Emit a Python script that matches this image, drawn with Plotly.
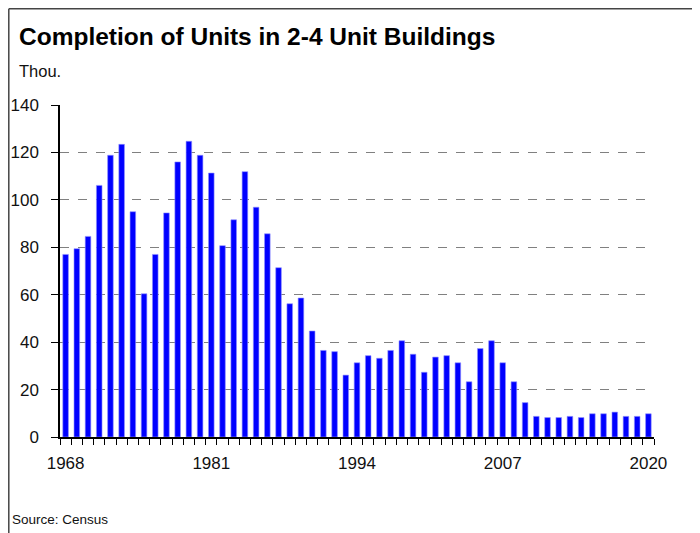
import plotly.graph_objects as go

years = list(range(1968, 2021))
units = [77.0, 79.4, 84.6, 106.1, 118.8, 123.4, 95.0, 60.4, 77.0, 94.5,
         116.0, 124.7, 118.8, 111.3, 80.7, 91.6, 111.9, 96.9, 85.7, 71.4,
         56.2, 58.6, 44.7, 36.5, 36.0, 26.1, 31.3, 34.3, 33.2, 36.5,
         40.6, 34.9, 27.3, 33.7, 34.3, 31.3, 23.3, 37.3, 40.6, 31.3,
         23.3, 14.5, 8.7, 8.2, 8.2, 8.7, 8.2, 9.8, 9.8, 10.5,
         8.7, 8.7, 9.8]
label_years = [1968, 1981, 1994, 2007, 2020]
y_ticks = [0, 20, 40, 60, 80, 100, 120, 140]

FONT = "Liberation Sans, Arial, sans-serif"
W, H = 700, 533
L, T = 52, 97
pw, ph = 594, 332
R, B = W - L - pw, H - T - ph

def px(x):
    return (x - L) / pw

def py(y):
    return (T + ph - y) / ph

fig = go.Figure()
fig.add_trace(go.Bar(
    x=years, y=units, width=0.5,
    marker=dict(color="#0000FF", line=dict(color="#9090ff", width=0.6)),
    hoverinfo="x+y",
))

fig.update_layout(
    width=W, height=H,
    margin=dict(l=L, r=R, t=T, b=B, autoexpand=False),
    paper_bgcolor="white", plot_bgcolor="white",
    showlegend=False,
    font=dict(family=FONT, size=17, color="#111111"),
    title=dict(text="<b>Completion of Units in 2-4 Unit Buildings</b>",
               font=dict(family=FONT, size=24.5, color="#000000"),
               xref="container", yref="container",
               x=11 / W, xanchor="left", y=1 - 19.5 / H, yanchor="top"),
)

fig.update_xaxes(
    range=[1967.5, 2020.5],
    tickmode="array", tickvals=label_years, ticktext=[str(v) for v in label_years],
    ticks="", ticklabelstandoff=10,
    showline=True, linecolor="#000000", linewidth=1.5,
    showgrid=False, zeroline=False,
    minor=dict(tickvals=[y - 0.5 for y in years] + [years[-1] + 0.5],
               ticks="outside", ticklen=6, tickcolor="#000000", tickwidth=1.2,
               showgrid=False),
    tickfont=dict(size=17, color="#111111"),
)

fig.update_yaxes(
    range=[0, 140], tickmode="array", tickvals=y_ticks,
    ticks="outside", ticklen=7, tickcolor="#000000", tickwidth=1.2,
    ticklabelstandoff=9,
    showline=True, linecolor="#000000", linewidth=1.5,
    showgrid=True, gridcolor="#808080", griddash="dash", gridwidth=1,
    zeroline=False,
    tickfont=dict(size=17, color="#111111"),
)

fig.add_annotation(text="Thou.", xref="paper", yref="paper",
                   x=px(9), y=py(52), xanchor="left", yanchor="top",
                   showarrow=False, font=dict(family=FONT, size=16.5, color="#111111"))
fig.add_annotation(text="Source: Census", xref="paper", yref="paper",
                   x=px(2), y=py(502), xanchor="left", yanchor="top",
                   showarrow=False, font=dict(family=FONT, size=13.5, color="#111111"))

# frame lines (top and left)
fig.add_shape(type="line", xref="paper", yref="paper",
              x0=px(0.8), x1=px(W + 2), y0=py(0.8), y1=py(0.8),
              line=dict(color="#444444", width=1.5))
fig.add_shape(type="line", xref="paper", yref="paper",
              x0=px(0.8), x1=px(0.8), y0=py(0.8), y1=py(H + 2),
              line=dict(color="#444444", width=1.5))

fig.write_html("out.html")
